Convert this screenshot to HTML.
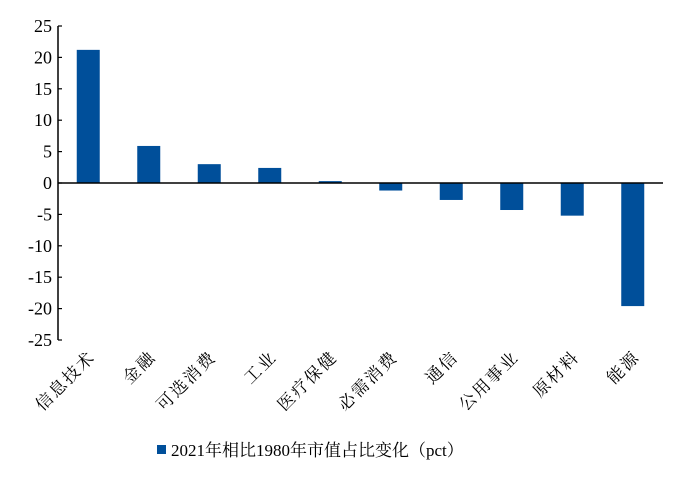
<!DOCTYPE html>
<html><head><meta charset="utf-8"><style>
body{margin:0;background:#fff;}
svg text{font-family:"Liberation Serif","Noto Serif CJK SC",serif;fill:#000;}
</style></head><body>
<svg id="c" width="680" height="480" xmlns="http://www.w3.org/2000/svg"></svg>
<script>
const categories=["信息技术","金融","可选消费","工业","医疗保健","必需消费","通信","公用事业","原材料","能源"];
const values=[21.2,5.9,3.0,2.4,0.3,-1.2,-2.7,-4.3,-5.2,-19.6];
const yTicks=[25,20,15,10,5,0,-5,-10,-15,-20,-25];
const NS="http://www.w3.org/2000/svg";
const svg=document.getElementById('c');
const x0=58,x1=663,yTop=26,yBot=340;
const y=v=>yTop+(25-v)*(yBot-yTop)/50;
const step=(x1-x0)/categories.length;
const xc=i=>x0+step*(i+0.5);
function mk(t,a){const e=document.createElementNS(NS,t);for(const k in a)e.setAttribute(k,a[k]);svg.appendChild(e);return e;}
values.forEach((v,i)=>{
 const r=mk('rect',{x:xc(i)-11.5,y:Math.min(y(v),y(0)),width:23,height:Math.abs(y(v)-y(0)),fill:'#004f9a'});
 
 
});
const ax=mk('line',{x1:x0,y1:yTop,x2:x0,y2:yBot,stroke:'#000','stroke-width':1.5});


yTicks.forEach(t=>{
 const tk=mk('line',{x1:x0,y1:y(t),x2:x0+4,y2:y(t),stroke:'#000','stroke-width':1.2});
 
 
 const tx=mk('text',{x:x0-6,y:y(t)+6,'text-anchor':'end','font-size':18});
 tx.textContent=t;
 
 
});
const zl=mk('line',{x1:x0,y1:y(0),x2:x1,y2:y(0),stroke:'#000','stroke-width':1.5});


categories.forEach((c,i)=>{
 const px=xc(i)+8,py=358;
 const tx=mk('text',{x:px,y:py,'text-anchor':'end','font-size':17,transform:`rotate(-45 ${px} ${py})`,'letter-spacing':'2'});
 tx.textContent=c;
 
 
});
const lr=mk('rect',{x:157,y:445,width:9,height:9,fill:'#004f9a'});


const lt=mk('text',{x:171,y:456,'font-size':17});
lt.textContent='2021年相比1980年市值占比变化（pct）';


</script>
</body></html>
